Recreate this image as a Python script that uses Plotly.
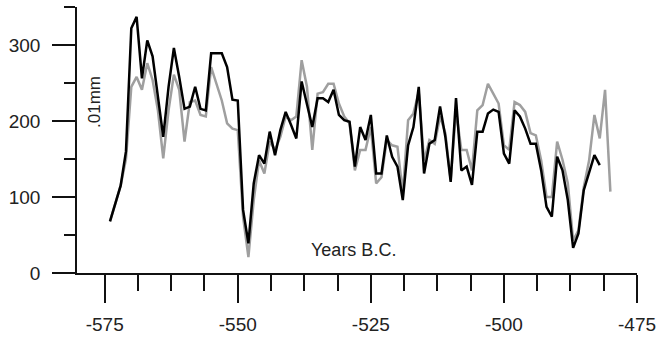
import plotly.graph_objects as go

start_year = -574
black_values = [68, 90, 115, 160, 322, 337, 256, 306, 285, 232,
                179, 245, 296, 258, 216, 219, 245, 216, 214, 289,
                289, 289, 271, 228, 227, 83, 39, 118, 155, 144,
                186, 155, 188, 212, 195, 177, 252, 223, 192, 230,
                230, 225, 241, 208, 201, 199, 140, 192, 175, 208,
                131, 131, 181, 153, 140, 96, 168, 192, 245, 131,
                170, 175, 219, 179, 120, 230, 135, 140, 116, 186,
                186, 210, 215, 212, 157, 144, 214, 206, 190, 170,
                170, 135, 87, 74, 153, 135, 96, 33, 52, 109,
                131, 155, 142]
gray_values = [68, 90, 115, 150, 245, 258, 241, 276, 254, 214,
               151, 214, 261, 241, 173, 225, 227, 208, 206, 271,
               250, 227, 197, 190, 188, 74, 21, 96, 148, 131,
               173, 162, 179, 206, 201, 206, 280, 245, 162, 236,
               238, 249, 249, 223, 206, 197, 135, 162, 162, 192,
               118, 126, 175, 168, 166, 105, 201, 210, 238, 148,
               175, 170, 206, 184, 122, 214, 162, 162, 135, 214,
               221, 249, 236, 223, 168, 162, 225, 221, 212, 184,
               181, 148, 100, 100, 173, 149, 118, 43, 56, 113,
               148, 208, 177, 241, 107]
black_years = [start_year + i for i in range(len(black_values))]
gray_years = [start_year + i for i in range(len(gray_values))]

x_ticks = [-575, -550, -525, -500, -475]
x_tick_labels = ["-575", "-550", "-525", "-500", "-475"]
y_ticks = [0, 100, 200, 300]
y_tick_labels = ["0", "100", "200", "300"]

font_family = "Liberation Sans, Arial, sans-serif"

fig = go.Figure()
fig.add_trace(go.Scatter(x=gray_years, y=gray_values, mode="lines",
                         line=dict(color="#9f9f9f", width=2.5), showlegend=False))
fig.add_trace(go.Scatter(x=black_years, y=black_values, mode="lines",
                         line=dict(color="#000000", width=2.5), showlegend=False))

fig.update_layout(
    width=668, height=337,
    margin=dict(l=77, r=31, t=7, b=64, autoexpand=False),
    paper_bgcolor="white", plot_bgcolor="white",
    font=dict(family=font_family, size=19, color="#222"),
    xaxis=dict(range=[-580.2, -475], tickvals=x_ticks, ticktext=x_tick_labels,
               automargin=False,
               ticks="outside", ticklen=28, tickwidth=1.5, tickcolor="#111",
               showline=True, linecolor="#111", linewidth=1.5,
               showgrid=False, zeroline=False, ticklabelstandoff=5,
               minor=dict(dtick=6.25, tick0=-575, ticks="outside", ticklen=16,
                          tickwidth=1.5, tickcolor="#111", showgrid=False)),
    yaxis=dict(range=[0, 350], tickvals=y_ticks, ticktext=y_tick_labels,
               automargin=False,
               ticks="outside", ticklen=23, tickwidth=1.5, tickcolor="#111",
               showline=True, linecolor="#111", linewidth=1.5,
               showgrid=False, zeroline=False, ticklabelstandoff=8,
               minor=dict(dtick=50, tick0=0, ticks="outside", ticklen=11,
                          tickwidth=1.5, tickcolor="#111", showgrid=False)),
    annotations=[
        dict(text="Years B.C.", xref="paper", yref="paper", x=0.493, y=0.0854,
             showarrow=False, font=dict(size=18, color="#222"),
             xanchor="center", yanchor="middle"),
        dict(text=".01mm", xref="paper", yref="paper", x=0.0316, y=0.642,
             showarrow=False, textangle=-90, font=dict(size=17, color="#222"),
             xanchor="center", yanchor="middle"),
    ],
)

fig.write_html(
    "out.html",
    config={"displayModeBar": False},
    post_script="document.body.style.margin='0';document.body.style.overflow='hidden';",
)
